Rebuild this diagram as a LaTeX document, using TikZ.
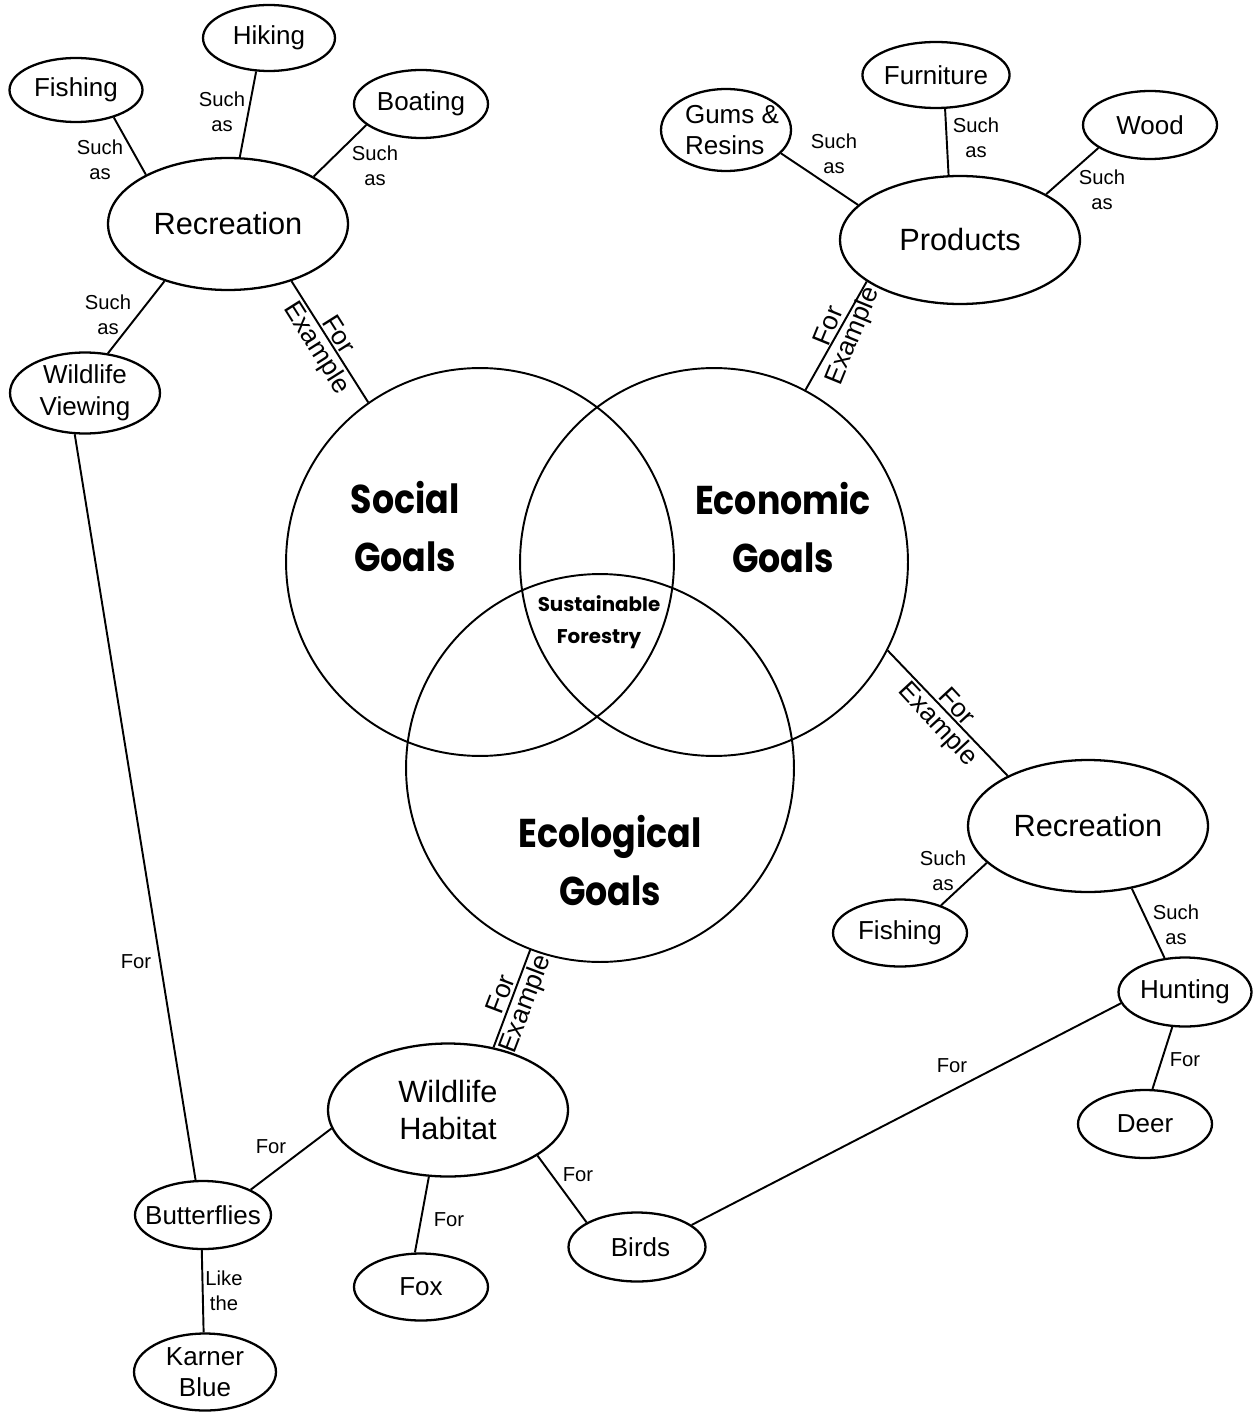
\documentclass[tikz,border=0pt]{standalone}
\usepackage{fontspec}
\setmainfont{Liberation Sans}
\newfontfamily\goalfont{Poppins}
\usetikzlibrary{shapes.geometric}
\newcommand{\goalsq}[1]{\scalebox{0.9}[1.04]{#1}}
\begin{document}
\begin{tikzpicture}[x=0.02cm,y=-0.02cm,
 ell/.style={ellipse, draw, line width=1.3pt, inner sep=0pt, align=center},
 sm/.style={ell, minimum width=2.68cm, minimum height=1.36cm, font=\fontsize{14.8}{18}\selectfont},
 bg/.style={ell, minimum width=4.8cm, minimum height=2.64cm, font=\fontsize{17.5}{21}\selectfont},
 goal/.style={circle, draw, line width=1.1pt, minimum size=7.76cm, inner sep=0pt},
 goaltxt/.style={font=\goalfont\bfseries\fontsize{22}{33}\selectfont, align=center, inner sep=0pt},
 sustxt/.style={font=\goalfont\bfseries\fontsize{11.3}{18}\selectfont, align=center, inner sep=0pt},
 lab/.style={font=\fontsize{11.5}{14.5}\selectfont, align=center, inner sep=0pt},
 fex/.style={font=\fontsize{15}{18}\selectfont, inner sep=1.5pt},
 con/.style={line width=1.1pt}]
\path[use as bounding box, fill=white] (0,0) rectangle (1252,1412);

% Venn circles
\node[goal] (soc) at (480,562) {};
\node[goal] (eco) at (714,562) {};
\node[goal] (ecl) at (600,768) {};
\node[goaltxt] (soct) at (405,527) {\goalsq{Social}\\\goalsq{Goals}};
\node[goaltxt] (ecot) at (783,528) {\goalsq{Economic}\\\goalsq{Goals}};
\node[goaltxt] (eclt) at (610,861) {\goalsq{Ecological}\\\goalsq{Goals}};
\node[sustxt] (sus) at (599,622) {Sustainable\\Forestry};

% top-left cluster
\node[bg] (rec1) at (228,224) {Recreation};
\node[sm, minimum width=2.64cm, minimum height=1.32cm] (hik) at (269,38) {Hiking};
\node[sm, minimum width=2.66cm, minimum height=1.28cm] (fish1) at (76,90) {Fishing};
\node[sm] (boat) at (421,104) {Boating};
\node[sm, minimum width=3.0cm, minimum height=1.62cm] (wv) at (85,393) {\makebox[0pt]{Wildlife}\\\makebox[0pt]{Viewing}};

\draw[con] (fish1.-36) -- (rec1.149);
\draw[con] (hik.-111) -- (rec1.80);
\draw[con] (boat.-159) -- (rec1.29);
\draw[con] (rec1.-138) -- (wv.60);
\draw[con] (rec1.-42) -- coordinate[pos=0.49] (m1) (soc.125);
\node[lab] (l1) at (100,160) {Such\\as};
\node[lab] (l2) at (222,112) {Such\\as};
\node[lab] (l3) at (375,166) {Such\\as};
\node[lab] (l4) at (108,315) {Such\\as};
\node[fex, rotate=-57.7, anchor=south] (f1a) at (m1) {For};
\node[fex, rotate=-57.7, anchor=north] (f1b) at (m1) {Example};

% top-right cluster
\node[bg, minimum height=2.56cm] (prod) at (960,240) {Products};
\node[sm, minimum width=2.72cm, minimum height=1.32cm] (furn) at (936,75) {Furniture};
\node[sm, minimum width=2.6cm, minimum height=1.64cm] (gums) at (726,130) {\makebox[0pt]{\hspace*{7.4pt}\parbox{1.9cm}{Gums \&\\Resins}}};
\node[sm] (wood) at (1150,125) {Wood};

\draw[con] (gums.-23) -- (prod.161);
\draw[con] (furn.-75) -- (prod.100);
\draw[con] (wood.-156) -- (prod.28);
\draw[con] (prod.-156) -- coordinate[pos=0.45] (m2) (eco.62);
\node[lab] (l5) at (834,154) {Such\\as};
\node[lab] (l6) at (976,138) {Such\\as};
\node[lab] (l7) at (1102,190) {Such\\as};
\node[fex, rotate=67.8, anchor=south] (f2a) at (m2) {For};
\node[fex, rotate=67.8, anchor=north] (f2b) at (m2) {Example};

% right cluster
\node[bg] (rec2) at (1088,826) {Recreation};
\node[sm, minimum height=1.34cm] (fish2) at (900,933) {Fishing};
\node[sm, minimum width=2.66cm, minimum height=1.38cm] (hunt) at (1185,992) {Hunting};
\node[sm] (deer) at (1145,1124) {Deer};

\draw[con] (eco.-27) -- coordinate[pos=0.51] (m3) (rec2.148);
\draw[con] (rec2.-160) -- (fish2.34);
\draw[con] (rec2.-55) -- (hunt.121);
\draw[con] (hunt.-110) -- (deer.78);
\node[fex, rotate=-47.1, anchor=south] (f3a) at (m3) {For};
\node[fex, rotate=-47.1, anchor=north] (f3b) at (m3) {Example};
\node[lab] (l8) at (943,871) {Such\\as};
\node[lab] (l9) at (1176,925) {Such\\as};
\node[lab] (l10) at (1185,1060) {For};

% bottom cluster
\node[bg, minimum height=2.66cm] (hab) at (448,1110) {Wildlife\\Habitat};
\node[sm, minimum width=2.72cm] (but) at (203,1215) {\makebox[0pt]{Butterflies}};
\node[sm, minimum height=1.34cm] (fox) at (421,1287) {Fox};
\node[sm, minimum width=2.74cm, minimum height=1.38cm] (bird) at (637,1247) {\hspace*{4pt}Birds};
\node[sm, minimum width=2.84cm, minimum height=1.54cm] (karn) at (205,1372) {Karner\\Blue};

\draw[con] (ecl.-111) -- coordinate[pos=0.5] (m4) (hab.54);
\draw[con] (hab.-171) -- (but.28);
\draw[con] (wv.-104) -- (but.102);
\draw[con] (hab.-106) -- (fox.100);
\draw[con] (hab.-27) -- (bird.154);
\draw[con] (hunt.-170) -- (bird.22);
\draw[con] (but.-92) -- (karn.92);
\node[fex, rotate=69.2, anchor=south] (f4a) at (m4) {For};
\node[fex, rotate=69.2, anchor=north] (f4b) at (m4) {Example};
\node[lab] (l11) at (136,962) {For};
\node[lab] (l12) at (271,1147) {For};
\node[lab] (l13) at (449,1220) {For};
\node[lab] (l14) at (578,1175) {For};
\node[lab] (l15) at (952,1066) {For};
\node[lab] (l16) at (224,1291) {Like\\the};
\end{tikzpicture}
\end{document}
